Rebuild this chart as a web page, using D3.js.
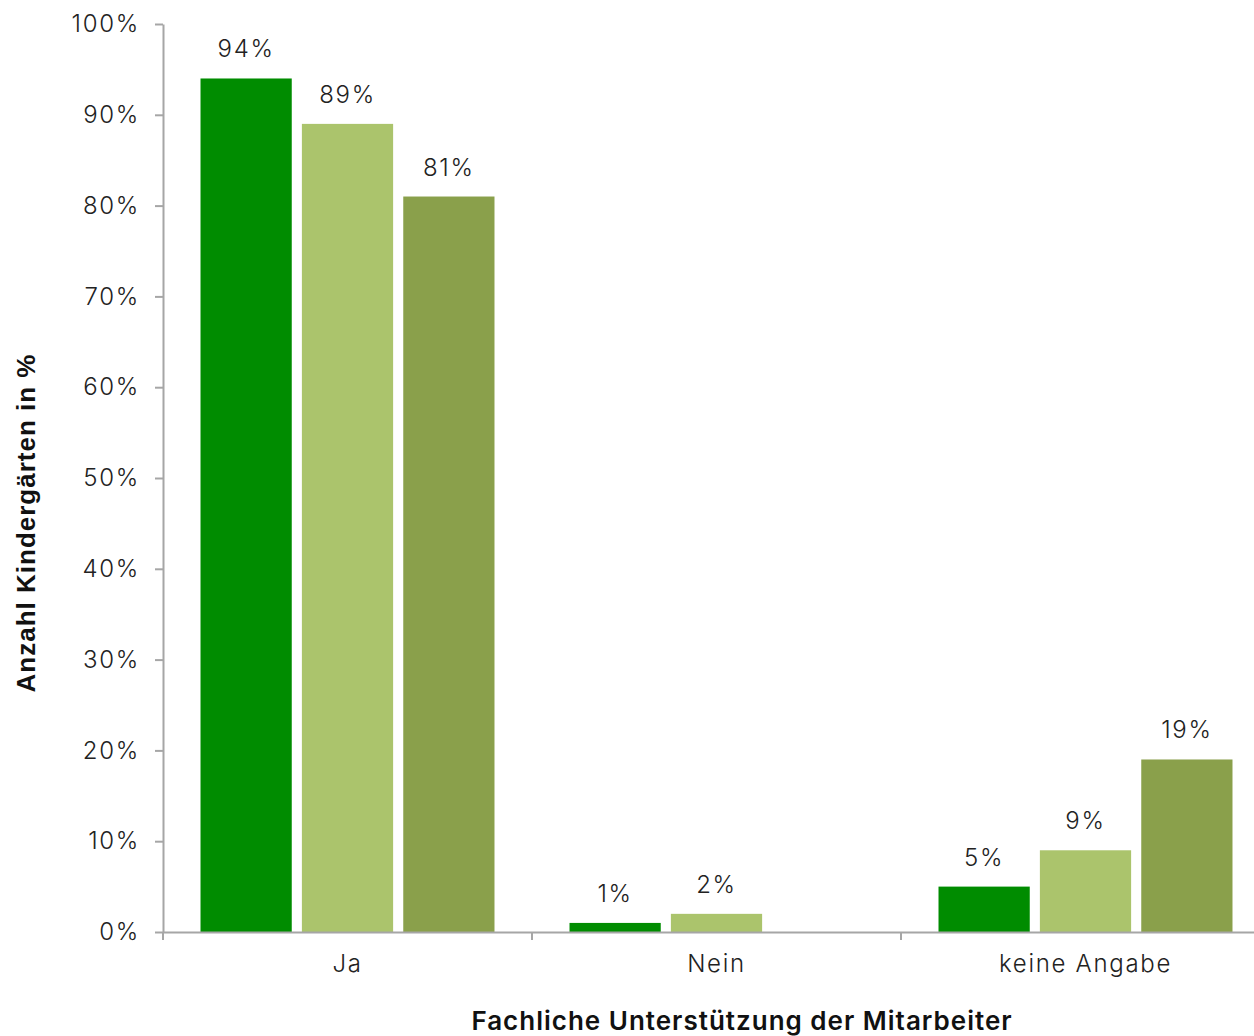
<!DOCTYPE html>
<html>
<head>
<meta charset="utf-8">
<script src="https://cdn.jsdelivr.net/npm/d3@7/dist/d3.min.js"></script>
<style>
  html, body { margin: 0; padding: 0; background: #fff; }
  svg { display: block; }
</style>
</head>
<body>
<svg id="chart" width="1254" height="1036"></svg>
<script>
// Categories on the x axis
const categories = ["Ja", "Nein", "keine Angabe"];
// Three survey series (share of kindergartens, %); null = no value
const series1 = [94, 1, 5];
const series2 = [89, 2, 9];
const series3 = [81, null, 19];
const seriesValues = [series1, series2, series3];
const seriesColors = ["#008c00", "#abc46c", "#8aa04b"];
const yTicks = [0, 10, 20, 30, 40, 50, 60, 70, 80, 90, 100];

const svg = d3.select("#chart");
const plotLeft = 163, plotRight = 1270, plotTop = 24, plotBottom = 932;
const lightFont = "Inter, 'Open Sans', sans-serif";
const labelSize = 24;
const labelSpacing = "1.7px";

const x = d3.scaleBand().domain(categories).range([plotLeft, plotRight]).paddingInner(0).paddingOuter(0);
const inner = d3.scaleBand().domain([0, 1, 2]).range([0, x.bandwidth()]).paddingInner(0.1).paddingOuter(0.37);
const y = d3.scaleLinear().domain([0, 100]).range([plotBottom, plotTop]);

function lightText(sel) {
  return sel.attr("font-family", lightFont)
    .attr("font-weight", 300)
    .attr("font-size", labelSize)
    .attr("letter-spacing", labelSpacing)
    .attr("fill", "#222");
}

// Bars with value labels
seriesValues.forEach((vals, si) => {
  const g = svg.append("g");
  categories.forEach((c, ci) => {
    const v = vals[ci];
    if (v == null) return;
    const bx = x(c) + inner(si);
    g.append("rect")
      .attr("x", bx)
      .attr("y", y(v))
      .attr("width", inner.bandwidth())
      .attr("height", y(0) - y(v))
      .attr("fill", seriesColors[si]);
    g.append("text")
      .attr("x", bx + inner.bandwidth() / 2)
      .attr("y", y(v) - 21)
      .attr("text-anchor", "middle")
      .call(lightText)
      .text(v + "%");
  });
});

// Y axis
const yAxis = svg.append("g").attr("transform", `translate(${plotLeft},0)`)
  .call(d3.axisLeft(y).tickValues(yTicks).tickFormat(d => d + "%").tickSize(8).tickSizeOuter(0));
yAxis.select(".domain").attr("stroke", "#a6a6a6").attr("stroke-width", 2);
yAxis.selectAll(".tick line").attr("stroke", "#a6a6a6").attr("stroke-width", 2);
yAxis.selectAll(".tick text")
  .attr("x", -23)
  .call(lightText);

// X axis
const xAxis = svg.append("g").attr("transform", `translate(0,${plotBottom})`)
  .call(d3.axisBottom(x).tickSize(0).tickSizeOuter(0));
xAxis.select(".domain").attr("stroke", "#a6a6a6").attr("stroke-width", 2);
xAxis.selectAll(".tick text")
  .attr("y", 23)
  .attr("dy", "0.71em")
  .call(lightText);
// Boundary ticks between categories
xAxis.selectAll(".sep")
  .data(categories)
  .enter().append("line")
  .attr("x1", d => x(d)).attr("x2", d => x(d))
  .attr("y1", 0).attr("y2", 8)
  .attr("stroke", "#a6a6a6").attr("stroke-width", 2);

// Axis titles
svg.append("text")
  .attr("transform", `translate(35,${(plotTop + plotBottom) / 2 + 45}) rotate(-90)`)
  .attr("text-anchor", "middle")
  .attr("font-family", "Arial, 'Liberation Sans', sans-serif")
  .attr("font-weight", "bold")
  .attr("font-size", 26)
  .attr("letter-spacing", "1px")
  .attr("fill", "#111")
  .text("Anzahl Kindergärten in %");

svg.append("text")
  .attr("x", 742)
  .attr("y", 1030)
  .attr("text-anchor", "middle")
  .attr("font-family", lightFont)
  .attr("font-weight", 600)
  .attr("font-size", 26)
  .attr("letter-spacing", "1px")
  .attr("fill", "#111")
  .text("Fachliche Unterstützung der Mitarbeiter");
</script>
</body>
</html>
